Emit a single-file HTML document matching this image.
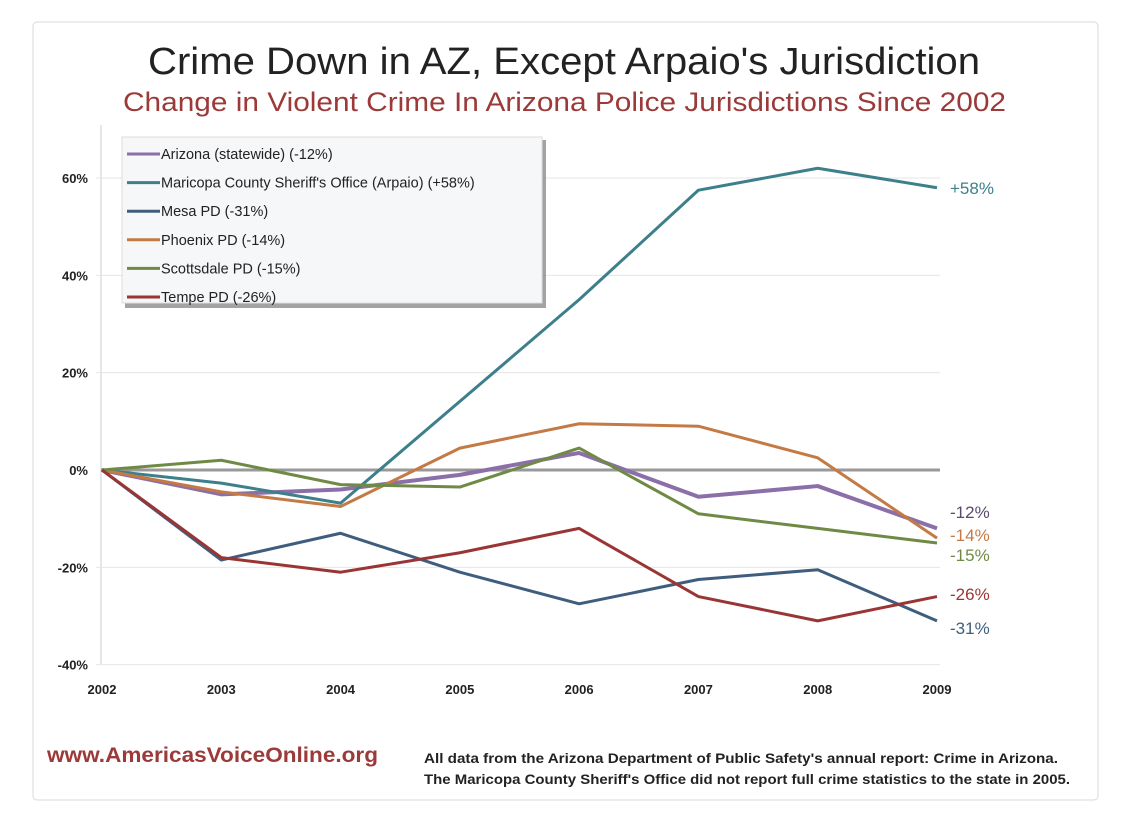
<!DOCTYPE html>
<html><head><meta charset="utf-8"><style>
body{margin:0;background:#fff;width:1138px;height:825px;overflow:hidden;font-family:"Liberation Sans",sans-serif}
</style></head><body>
<svg width="1138" height="825">
<rect x="33" y="22" width="1065" height="778" rx="4" fill="#fff" stroke="#d8d8d8"/>
<text x="148" y="74" textLength="832" lengthAdjust="spacingAndGlyphs" font-size="38" fill="#222">Crime Down in AZ, Except Arpaio's Jurisdiction</text>
<text x="123" y="111" textLength="883" lengthAdjust="spacingAndGlyphs" font-size="27" fill="#9b3a38">Change in Violent Crime In Arizona Police Jurisdictions Since 2002</text>
<g id="grid"></g><g id="lines"></g>
<g id="legend"></g>
<text x="47" y="762" textLength="331" lengthAdjust="spacingAndGlyphs" font-size="21" font-weight="bold" fill="#9b3a38">www.AmericasVoiceOnline.org</text>
<text x="424" y="763" textLength="634" lengthAdjust="spacingAndGlyphs" font-size="14" font-weight="bold" fill="#222">All data from the Arizona Department of Public Safety's annual report: Crime in Arizona.</text>
<text x="424" y="784" textLength="646" lengthAdjust="spacingAndGlyphs" font-size="14" font-weight="bold" fill="#222">The Maricopa County Sheriff's Office did not report full crime statistics to the state in 2005.</text>
</svg>
<script>
const years=["2002","2003","2004","2005","2006","2007","2008","2009"];
const yTicks=[60,40,20,0,-20,-40];
const names=["Arizona (statewide) (-12%)","Maricopa County Sheriff's Office (Arpaio) (+58%)","Mesa PD (-31%)","Phoenix PD (-14%)","Scottsdale PD (-15%)","Tempe PD (-26%)"];
const endLabels=["-12%","+58%","-31%","-14%","-15%","-26%"];
const arizona=[0,-5,-4,-1,3.5,-5.5,-3.3,-12];
const maricopa=[0,-2.7,-6.8,null,35,57.5,62,58];
const mesa=[0,-18.5,-13,-21,-27.5,-22.5,-20.5,-31];
const phoenix=[0,-4.5,-7.5,4.5,9.5,9,2.5,-14];
const scottsdale=[0,2,-3,-3.5,4.5,-9,-12,-15];
const tempe=[0,-18,-21,-17,-12,-26,-31,-26];
const series=[arizona,maricopa,mesa,phoenix,scottsdale,tempe];
const colors=["#8a6fa8","#3d7f8a","#3f5e7e","#c47a44","#6f8a45","#9a3535"];
const labelColors=["#5a4a6e","#3d7f8a","#3f5e7e","#c47a44","#6f8a45","#9a3535"];
const widths=[4,3,3,3,3,3];
const keys=["arizona","maricopa","mesa","phoenix","scottsdale","tempe"];
const NS="http://www.w3.org/2000/svg";
const X=i=>102+i*(937-102)/(years.length-1);
const Y=v=>470-v*(292/60);
function mk(t,a,p,txt){const e=document.createElementNS(NS,t);for(const k in a)e.setAttribute(k,a[k]);if(txt!=null)e.textContent=txt;p.appendChild(e);return e;}
const grid=document.getElementById('grid'),lines=document.getElementById('lines'),lg=document.getElementById('legend');
mk('line',{x1:101,y1:125,x2:101,y2:665,stroke:'#ccc'},grid);
yTicks.forEach(t=>{
 if(t!==0){const l=mk('line',{x1:96,y1:Y(t),x2:940,y2:Y(t),stroke:'#e6e6e6'},grid);
 }
 const tx=mk('text',{x:88,y:Y(t)+5,'text-anchor':'end','font-size':13,'font-weight':'bold',fill:'#222'},grid,t+'%');
 
});
const z=mk('line',{x1:101,y1:Y(0),x2:940,y2:Y(0),stroke:'#999','stroke-width':3},grid);

years.forEach((yr,i)=>{const t=mk('text',{x:X(i),y:694,'text-anchor':'middle','font-size':13,'font-weight':'bold',fill:'#222'},grid,yr);
});
const endY=[518,194,634,541,561,600];
series.forEach((s,k)=>{
 const pts=[];s.forEach((v,i)=>{if(v!=null)pts.push(X(i)+','+Y(v));});
 const p=mk('polyline',{points:pts.join(' '),fill:'none',stroke:colors[k],'stroke-width':widths[k],'stroke-linejoin':'round'},lines);
 
 const t=mk('text',{x:950,y:endY[k],'font-size':17,fill:labelColors[k]},lines,endLabels[k]);
 
});
mk('rect',{x:125,y:140,width:421,height:168,fill:'#666',opacity:0.6},lg);
mk('rect',{x:122,y:137,width:420,height:166,fill:'#f6f7f8',stroke:'#ddd'},lg);
names.forEach((n,k)=>{const y=154+k*28.6;
 mk('line',{x1:127,y1:y,x2:160,y2:y,stroke:colors[k],'stroke-width':3},lg);
 const t=mk('text',{x:161,y:y+5,'font-size':14.5,fill:'#222'},lg,n);
 });
</script>
</body></html>
